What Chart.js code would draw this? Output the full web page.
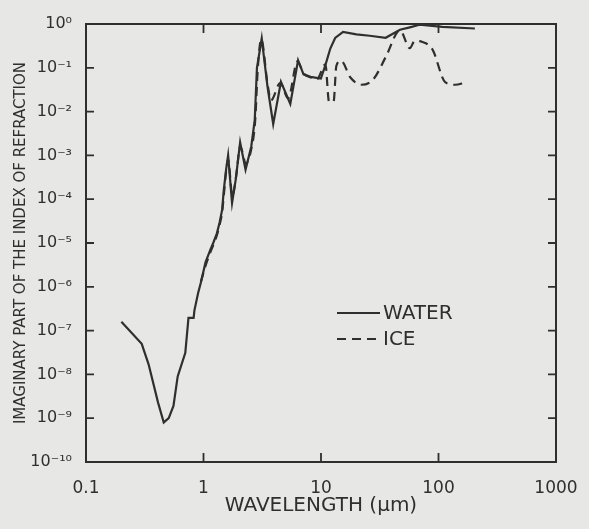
<!DOCTYPE html>
<html>
<head>
<meta charset="utf-8">
<script src="https://cdn.jsdelivr.net/npm/chart.js@4.4.1/dist/chart.umd.min.js"></script>
<style>
    html, body { margin: 0; padding: 0; background: #e7e8e5; }
    #wrap { width: 589px; height: 529px; position: relative; }
</style>
</head>
<body>
<div id="wrap"><canvas id="chart" width="589" height="529"></canvas></div>
<script>
// valores (longitud de onda en um, parte imaginaria k)
const waterWavelength = [0.2, 0.298, 0.341, 0.41, 0.459, 0.506, 0.555, 0.603, 0.70, 0.745, 0.824, 0.837, 0.90,
    0.95, 1.04, 1.14, 1.21, 1.30, 1.37, 1.44, 1.49, 1.56, 1.62, 1.75, 1.88, 2.05, 2.28, 2.55, 2.73, 2.85, 3.13,
    3.5, 3.92, 4.56, 5.48, 6.38, 7.1, 8.15, 9.97, 10.9, 12, 13.2, 15.4, 20, 26, 35.5, 47, 57, 69, 108, 204];
const waterK = [1.6e-7, 5e-8, 1.7e-8, 2.3e-9, 8e-10, 1.0e-9, 1.9e-9, 9e-9, 3.1e-8, 1.95e-7, 1.95e-7, 2.9e-7, 7.2e-7,
    1.26e-6, 3.6e-6, 6.9e-6, 1e-5, 1.66e-5, 2.9e-5, 5.7e-5, 1.68e-4, 4.9e-4, 1e-3, 8.2e-5, 2.8e-4, 2e-3, 4.7e-4,
    1.6e-3, 6.5e-3, 0.1, 0.47, 0.038, 5.2e-3, 0.048, 0.015, 0.149, 0.071, 0.062, 0.057, 0.115, 0.275, 0.48, 0.66,
    0.58, 0.54, 0.485, 0.74, 0.84, 0.96, 0.86, 0.79];

const iceWavelength = [0.95, 1.04, 1.14, 1.21, 1.30, 1.37, 1.44, 1.50, 1.56, 1.62, 1.76, 1.90, 2.05, 2.3, 2.55,
    2.75, 2.9, 3.1, 3.5, 3.75, 4.5, 5.25, 6.3, 7.1, 8.2, 9.2, 10.9, 11.7, 12.8, 13.5, 14.8, 17.8, 22, 27.8, 35.7,
    47, 57, 62.7, 73, 89, 114, 139, 168];
const iceK = [1.3e-6, 3e-6, 6e-6, 9e-6, 1.5e-5, 2.6e-5, 5e-5, 1.5e-4, 4.5e-4, 8e-4, 1.2e-4, 3.5e-4, 1.6e-3, 6.5e-4,
    1.4e-3, 6e-3, 0.1, 0.45, 0.045, 0.018, 0.045, 0.02, 0.14, 0.075, 0.06, 0.054, 0.12, 0.017, 0.017, 0.11, 0.145,
    0.06, 0.041, 0.054, 0.18, 0.72, 0.28, 0.41, 0.39, 0.26, 0.047, 0.041, 0.046];

const xTickValues = [0.1, 1, 10, 100, 1000];
const xTickLabels = ['0.1', '1', '10', '100', '1000'];
const yTickValues = [1e-10, 1e-9, 1e-8, 1e-7, 1e-6, 1e-5, 1e-4, 1e-3, 1e-2, 1e-1, 1];
const yTickLabels = ['10⁻¹⁰', '10⁻⁹', '10⁻⁸', '10⁻⁷', '10⁻⁶', '10⁻⁵', '10⁻⁴', '10⁻³', '10⁻²', '10⁻¹', '10⁰'];

const seriesNames = ['WATER', 'ICE'];

const ink = '#2f2f2f';
const fontFam = '"DejaVu Sans", "Liberation Sans", sans-serif';

const toPoints = (xs, ys) => xs.map((x, i) => ({ x: x, y: ys[i] }));
const sameLog = (a, b) => Math.abs(Math.log10(a) - Math.log10(b)) < 1e-6;

// marco + marcas hacia dentro + leyenda
const framePlugin = {
    id: 'frame',
    afterDraw(chart) {
        const { ctx, chartArea: a, scales } = chart;
        ctx.save();
        ctx.strokeStyle = ink;
        ctx.lineWidth = 2;
        ctx.strokeRect(a.left, a.top, a.right - a.left, a.bottom - a.top);

        ctx.lineWidth = 1.8;
        xTickValues.slice(1, -1).forEach(v => {
            const px = scales.x.getPixelForValue(v);
            ctx.beginPath();
            ctx.moveTo(px, a.bottom); ctx.lineTo(px, a.bottom - 9);
            ctx.moveTo(px, a.top); ctx.lineTo(px, a.top + 9);
            ctx.stroke();
        });
        yTickValues.slice(1, -1).forEach(v => {
            const py = scales.y.getPixelForValue(v);
            ctx.beginPath();
            ctx.moveTo(a.left, py); ctx.lineTo(a.left + 8, py);
            ctx.moveTo(a.right, py); ctx.lineTo(a.right - 8, py);
            ctx.stroke();
        });

        // leyenda
        const lx = 337, ly = 313, gap = 26;
        ctx.font = '20px ' + fontFam;
        ctx.fillStyle = ink;
        ctx.textBaseline = 'middle';
        chart.data.datasets.forEach((ds, i) => {
            const y = ly + i * gap;
            ctx.setLineDash(ds.borderDash || []);
            ctx.lineWidth = ds.borderWidth;
            ctx.strokeStyle = ds.borderColor;
            ctx.beginPath();
            ctx.moveTo(lx, y); ctx.lineTo(lx + 43, y);
            ctx.stroke();
            ctx.setLineDash([]);
            ctx.fillText(ds.label, lx + 46, y + 1);
        });
        ctx.restore();
    }
};

new Chart(document.getElementById('chart').getContext('2d'), {
    type: 'line',
    data: {
        datasets: [
            {
                label: seriesNames[0],
                data: toPoints(waterWavelength, waterK),
                borderColor: ink,
                borderWidth: 2.2,
                pointRadius: 0,
                tension: 0,
                fill: false
            },
            {
                label: seriesNames[1],
                data: toPoints(iceWavelength, iceK),
                borderColor: ink,
                borderWidth: 2.2,
                borderDash: [9, 6],
                pointRadius: 0,
                cubicInterpolationMode: 'monotone',
                fill: false
            }
        ]
    },
    options: {
        responsive: false,
        animation: false,
        devicePixelRatio: 1,
        layout: { padding: { top: 24, right: 33, left: 0, bottom: 0 } },
        plugins: { legend: { display: false }, tooltip: { enabled: false } },
        scales: {
            x: {
                type: 'logarithmic',
                min: 0.1,
                max: 1000,
                afterBuildTicks: (scale) => { scale.ticks = xTickValues.map(v => ({ value: v })); },
                afterFit: (scale) => { scale.height = 67; },
                grid: { display: false },
                border: { display: false },
                ticks: {
                    autoSkip: false,
                    maxRotation: 0,
                    padding: 8,
                    color: ink,
                    font: { family: fontFam, size: 17 },
                    callback: (v) => {
                        const i = xTickValues.findIndex(t => sameLog(t, v));
                        return i >= 0 ? xTickLabels[i] : '';
                    }
                },
                title: {
                    display: true,
                    text: 'WAVELENGTH (µm)',
                    color: ink,
                    font: { family: fontFam, size: 20 },
                    padding: { top: 0, bottom: 11 }
                }
            },
            y: {
                type: 'logarithmic',
                min: 1e-10,
                max: 1,
                afterBuildTicks: (scale) => { scale.ticks = yTickValues.map(v => ({ value: v })); },
                afterFit: (scale) => { scale.width = 86; },
                grid: { display: false },
                border: { display: false },
                ticks: {
                    autoSkip: false,
                    padding: 6,
                    color: ink,
                    font: { family: fontFam, size: 16 },
                    callback: (v) => {
                        const i = yTickValues.findIndex(t => sameLog(t, v));
                        return i >= 0 ? yTickLabels[i] : '';
                    }
                },
                title: {
                    display: true,
                    text: 'IMAGINARY PART OF THE INDEX OF REFRACTION',
                    color: ink,
                    font: { family: fontFam, size: 15 },
                    padding: { top: 12, bottom: 0 }
                }
            }
        }
    },
    plugins: [framePlugin]
});
</script>
</body>
</html>
